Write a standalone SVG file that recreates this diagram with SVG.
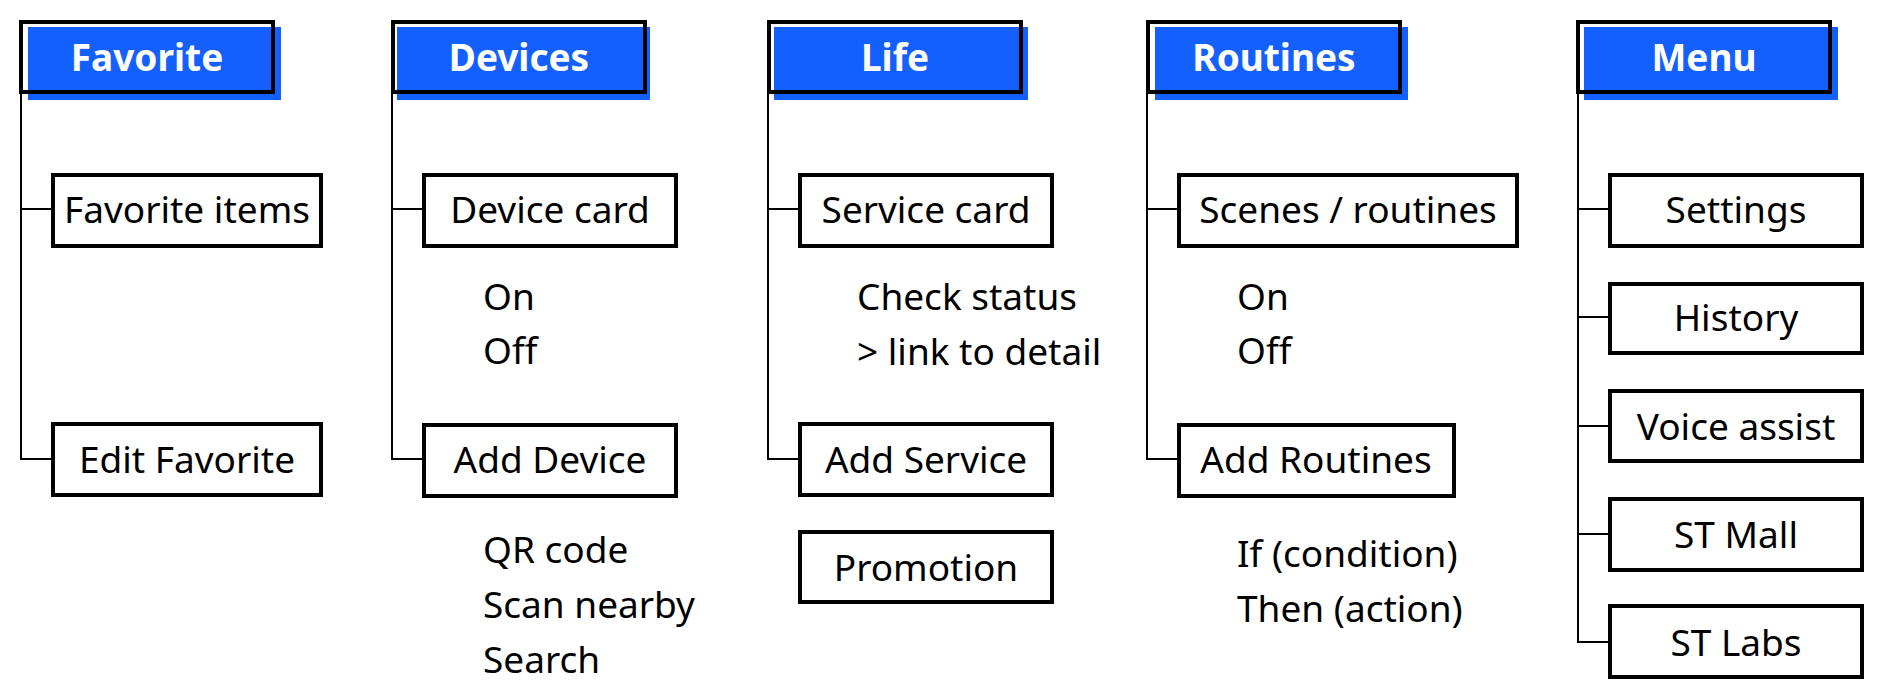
<svg xmlns="http://www.w3.org/2000/svg" width="1892" height="696" viewBox="0 0 1892 696">
<style>
.bg{fill:#1460FF}
.hb{fill:none;stroke:#000;stroke-width:4}
.ht{font-family:"Noto Sans","Open Sans",sans-serif;font-weight:bold;font-size:37px;fill:#fff;text-anchor:middle}
.bx{fill:#fff;stroke:#000;stroke-width:4}
.t{font-family:"Noto Sans","Open Sans",sans-serif;font-size:37px;fill:#000}
.c{text-anchor:middle}
.ln{fill:none;stroke:#000;stroke-width:2}
</style>
<rect width="1892" height="696" fill="#fff"/>
<g id="connectors">
<path class="ln" d="M21,94 V459 H53 M21,209 H53"/>
<path class="ln" d="M392,94 V459 H424 M392,209 H424"/>
<path class="ln" d="M768,94 V459 H800 M768,209 H800"/>
<path class="ln" d="M1147,94 V459 H1179 M1147,209 H1179"/>
<path class="ln" d="M1578,94 V642 H1610 M1578,209 H1610 M1578,317 H1610 M1578,426 H1610 M1578,534 H1610"/>
</g>
<g id="favorite">
<rect class="bg" x="28" y="27" width="253" height="73"/>
<rect class="hb" x="21" y="22" width="252" height="70"/>
<text class="ht" x="147" y="71">Favorite</text>
</g>
<g id="favorite-items">
<rect class="bx" x="53" y="175" width="268" height="71"/>
<text class="t c" x="187" y="223">Favorite items</text>
</g>
<g id="edit-favorite">
<rect class="bx" x="53" y="424" width="268" height="71"/>
<text class="t c" x="187" y="473">Edit Favorite</text>
</g>
<g id="devices">
<rect class="bg" x="397" y="27" width="253" height="73"/>
<rect class="hb" x="393" y="22" width="252" height="70"/>
<text class="ht" x="519" y="71">Devices</text>
</g>
<g id="device-card">
<rect class="bx" x="424" y="175" width="252" height="71"/>
<text class="t c" x="550" y="223">Device card</text>
</g>
<g id="device-card-notes">
<text class="t" x="483" y="310">On</text>
<text class="t" x="483" y="364">Off</text>
</g>
<g id="add-device">
<rect class="bx" x="424" y="425" width="252" height="71"/>
<text class="t c" x="550" y="473">Add Device</text>
</g>
<g id="add-device-notes">
<text class="t" x="483" y="563">QR code</text>
<text class="t" x="483" y="618">Scan nearby</text>
<text class="t" x="483" y="673">Search</text>
</g>
<g id="life">
<rect class="bg" x="774" y="27" width="254" height="73"/>
<rect class="hb" x="769" y="22" width="252" height="70"/>
<text class="ht" x="895" y="71">Life</text>
</g>
<g id="service-card">
<rect class="bx" x="800" y="175" width="252" height="71"/>
<text class="t c" x="926" y="223">Service card</text>
</g>
<g id="service-card-notes">
<text class="t" x="857" y="310">Check status</text>
<text class="t" x="857" y="365">&gt; link to detail</text>
</g>
<g id="add-service">
<rect class="bx" x="800" y="424" width="252" height="71"/>
<text class="t c" x="926" y="473">Add Service</text>
</g>
<g id="promotion">
<rect class="bx" x="800" y="532" width="252" height="70"/>
<text class="t c" x="926" y="581">Promotion</text>
</g>
<g id="routines">
<rect class="bg" x="1155" y="27" width="253" height="73"/>
<rect class="hb" x="1148" y="22" width="252" height="70"/>
<text class="ht" x="1274" y="71">Routines</text>
</g>
<g id="scenes-routines">
<rect class="bx" x="1179" y="175" width="338" height="71"/>
<text class="t c" x="1348" y="223">Scenes / routines</text>
</g>
<g id="scenes-notes">
<text class="t" x="1237" y="310">On</text>
<text class="t" x="1237" y="364">Off</text>
</g>
<g id="add-routines">
<rect class="bx" x="1179" y="425" width="275" height="71"/>
<text class="t c" x="1316" y="473">Add Routines</text>
</g>
<g id="add-routines-notes">
<text class="t" x="1237" y="567">If (condition)</text>
<text class="t" x="1237" y="622">Then (action)</text>
</g>
<g id="menu">
<rect class="bg" x="1584" y="27" width="254" height="73"/>
<rect class="hb" x="1578" y="22" width="252" height="70"/>
<text class="ht" x="1704" y="71">Menu</text>
</g>
<g id="settings">
<rect class="bx" x="1610" y="175" width="252" height="71"/>
<text class="t c" x="1736" y="223">Settings</text>
</g>
<g id="history">
<rect class="bx" x="1610" y="284" width="252" height="69"/>
<text class="t c" x="1736" y="331">History</text>
</g>
<g id="voice-assist">
<rect class="bx" x="1610" y="391" width="252" height="70"/>
<text class="t c" x="1736" y="440">Voice assist</text>
</g>
<g id="st-mall">
<rect class="bx" x="1610" y="499" width="252" height="71"/>
<text class="t c" x="1736" y="548">ST Mall</text>
</g>
<g id="st-labs">
<rect class="bx" x="1610" y="606" width="252" height="71"/>
<text class="t c" x="1736" y="656">ST Labs</text>
</g>
</svg>
